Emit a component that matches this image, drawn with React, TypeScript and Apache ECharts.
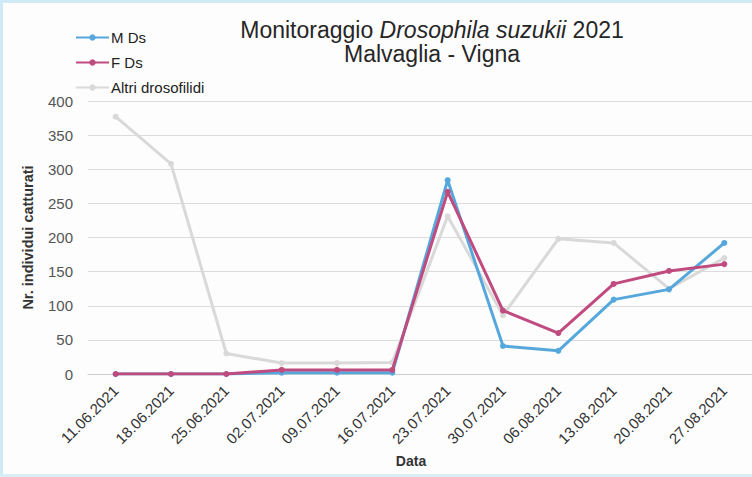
import React, { useEffect, useRef } from "react";
import * as echarts from "echarts";

const dates = ["11.06.2021","18.06.2021","25.06.2021","02.07.2021","09.07.2021","16.07.2021","23.07.2021","30.07.2021","06.08.2021","13.08.2021","20.08.2021","27.08.2021"];
const mDs = [0, 0, 0, 2, 2, 2, 284, 41, 34, 109, 124, 192];
const fDs = [0, 0, 0, 6, 6, 6, 267, 93, 60, 132, 151, 161];
const altri = [377, 308, 30, 16, 16, 17, 231, 86, 198, 192, 125, 170];
const yTicks = { min: 0, max: 400, interval: 50 };

const FONT = "'Liberation Sans', Arial, sans-serif";

export default function App() {
  const ref = useRef<HTMLDivElement>(null);
  useEffect(() => {
    const chart = echarts.init(ref.current!, null, { renderer: "svg" });
    const mk = (name: string, data: number[], color: string, z: number) => ({
      name, type: "line", data, z,
      symbol: "circle", symbolSize: 6,
      lineStyle: { color, width: 3 },
      itemStyle: { color },
    });
    chart.setOption({
      animation: false,
      backgroundColor: "#fdfdfd",
      textStyle: { fontFamily: FONT },
      title: {
        text: "{n|Monitoraggio }{i|Drosophila suzukii}{n| 2021}\n{n|Malvaglia - Vigna}",
        left: 432, top: 18, textAlign: "center", padding: 0,
        textStyle: {
          fontWeight: "normal",
          rich: {
            n: { fontSize: 23, color: "#262626", fontFamily: FONT, fontWeight: "normal", lineHeight: 24 },
            i: { fontSize: 23, color: "#262626", fontFamily: FONT, fontWeight: "normal", fontStyle: "italic", lineHeight: 24 },
          },
        },
      },
      legend: {
        orient: "vertical", left: 75, top: 30, itemGap: 10, padding: 0,
        itemWidth: 33, itemHeight: 8,
        textStyle: { fontSize: 15, color: "#222", fontFamily: FONT, padding: [0, 0, 0, -3] },
        data: ["M Ds", "F Ds", "Altri drosofilidi"],
      },
      grid: { left: 88, right: -3, top: 101, bottom: 103 },
      xAxis: {
        type: "category", data: dates, boundaryGap: true,
        name: "Data", nameLocation: "middle", nameGap: 80,
        nameTextStyle: { fontWeight: "bold", fontSize: 14, color: "#333", padding: [0, 18, 0, 0] },
        axisLine: { lineStyle: { color: "#d0d0d0" } },
        axisTick: { show: false },
        axisLabel: { rotate: 45, fontSize: 15, color: "#333", margin: 14, interval: 0 },
      },
      yAxis: {
        type: "value", ...yTicks,
        name: "Nr. individui catturati", nameLocation: "middle", nameGap: 53,
        nameTextStyle: { fontWeight: "bold", fontSize: 14.5, color: "#333" },
        axisLine: { show: false }, axisTick: { show: false },
        axisLabel: { fontSize: 15, color: "#555", margin: 15 },
        splitLine: { lineStyle: { color: "#dcdcdc" } },
      },
      series: [
        mk("Altri drosofilidi", altri, "#d9d9d9", 1),
        mk("M Ds", mDs, "#56a8dc", 2),
        mk("F Ds", fDs, "#c04b7e", 3),
      ],
      graphic: [
        { type: "rect", shape: { x: 0, y: 0, width: 752, height: 3 }, style: { fill: "#cfe9f5" } },
        { type: "rect", shape: { x: 0, y: 0, width: 3, height: 477 }, style: { fill: "#cfe9f5" } },
        { type: "rect", shape: { x: 0, y: 474, width: 752, height: 3 }, style: { fill: "#d8eef7" } },
      ],
    });
    return () => chart.dispose();
  }, []);
  return <div ref={ref} style={{ width: 752, height: 477, position: "fixed", left: 0, top: 0 }} />;
}
